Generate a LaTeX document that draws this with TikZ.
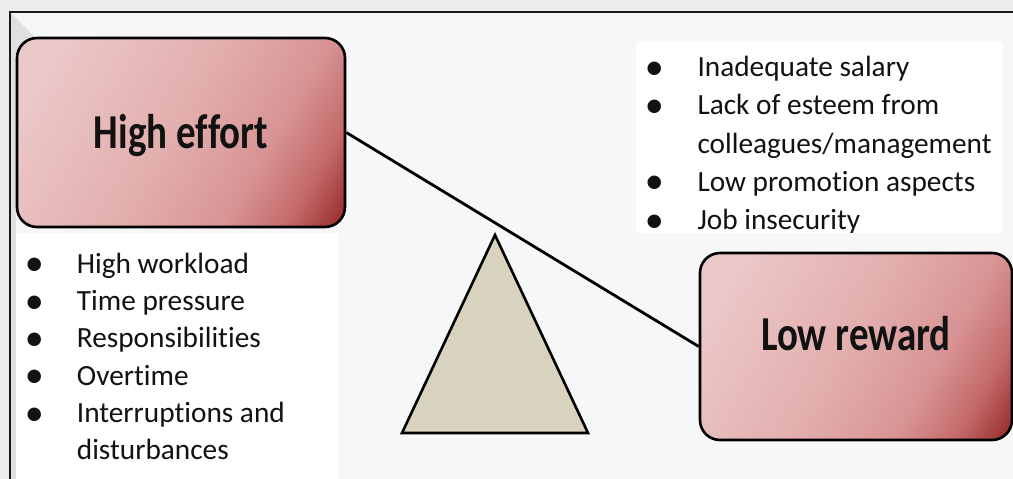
\documentclass[tikz,border=0pt]{standalone}
\usepackage{fontspec}
\setmainfont{Carlito}[Ligatures=NoCommon]

% colours
\definecolor{outerbg}{RGB}{237,237,237}
\definecolor{innerbg}{RGB}{247,247,247}
\definecolor{edgeshade}{RGB}{224,224,224}
\definecolor{framec}{RGB}{25,25,25}
\definecolor{beige}{RGB}{216,211,190}
\definecolor{inkc}{RGB}{18,18,18}
\definecolor{rsA}{RGB}{236,201,201}
\definecolor{rsB}{RGB}{226,172,172}
\definecolor{rsC}{RGB}{216,148,148}
\definecolor{rsD}{RGB}{196,106,106}
\definecolor{rsE}{RGB}{150,40,40}

% diagonal light-pink to dark-red fill of the two boxes
\pgfdeclarehorizontalshading{redgrad}{100bp}{color(0bp)=(rsA); color(22bp)=(rsA); color(50bp)=(rsB); color(65bp)=(rsC); color(75bp)=(rsD); color(84bp)=(rsE); color(100bp)=(rsE)}

\tikzset{
  redbox/.style={draw=black, line width=2.6pt, rounded corners=20pt,
    shading=redgrad, shading angle=-30, inner sep=0pt, text=inkc,
    font=\fontsize{39}{45}\selectfont\bfseries, text depth=0pt},
  listitem/.style={anchor=base west, inner sep=0pt, text=inkc,
    font=\fontsize{29.3}{35}\selectfont},
  listbullet/.style={anchor=base, inner sep=0pt, text=inkc,
    font=\fontsize{29.3}{35}\selectfont},
}
\newcommand{\bigdot}{\raisebox{-2.5pt}{\scalebox{1.3}{•}}}

\begin{document}
\begin{tikzpicture}[x=1pt, y=-1pt]
\useasboundingbox (0,0) rectangle (1013,479);

% page background and framed area
\fill[outerbg] (0,0) rectangle (1013,479);
\fill[innerbg] (10,12) rectangle (1013,479);
\fill[edgeshade] (11,13) -- (38,40) -- (16,62) -- (16,479) -- (11,479) -- cycle;

% white panels behind the lists
\fill[white] (16,233) rectangle (338,479);
\fill[white] (636,42) rectangle (1003,233);

% frame
\draw[framec, line width=2.3pt] (10,479) -- (10,12) -- (1013,12);

% the two boxes
\node[redbox, minimum width=328pt, minimum height=189pt, text height=31.6pt]
  (effort) at (181,132.5) {\scalebox{1}[1.25]{High effort}};
\node[redbox, minimum width=312pt, minimum height=187pt, text height=7.2pt]
  (reward) at (856,346.5) {\scalebox{1}[1.25]{Low reward}};

% fulcrum
\draw[line width=2.6pt, line join=miter, fill=beige] (495,235) -- (588,433) -- (402,433) -- cycle;

% beam
\draw[line width=2.8pt] (effort.east) -- (reward.west);

% effort list
\foreach \t [count=\i] in {High workload, Time pressure, Responsibilities, Overtime, Interruptions and}{
  \node[listbullet] (eb\i) at (34.3, {273.3+37.3*(\i-1)}) {\bigdot};
  \node[listitem] (et\i) at (76.7, {273.3+37.3*(\i-1)}) {\t};
}
\node[listitem] (et6) at (76.7, 459.8) {disturbances};

% reward list, cut off by its panel
\begin{scope}
  \clip (636,42) rectangle (1003,232.5);
  \node[listbullet] (rb1) at (654.3, 76.7) {\bigdot};
  \node[listitem] (rt1) at (697.3, 76.7) {Inadequate salary};
  \node[listbullet] (rb2) at (654.3, 114.9) {\bigdot};
  \node[listitem] (rt2) at (697.3, 114.9) {Lack of esteem from};
  \node[listitem] (rt3) at (697.3, 153.1) {colleagues/management};
  \node[listbullet] (rb4) at (654.3, 191.3) {\bigdot};
  \node[listitem] (rt4) at (697.3, 191.3) {Low promotion aspects};
  \node[listbullet] (rb5) at (654.3, 229.8) {\bigdot};
  \node[listitem] (rt5) at (697.3, 229.8) {Job insecurity};
\end{scope}
\end{tikzpicture}
\end{document}
